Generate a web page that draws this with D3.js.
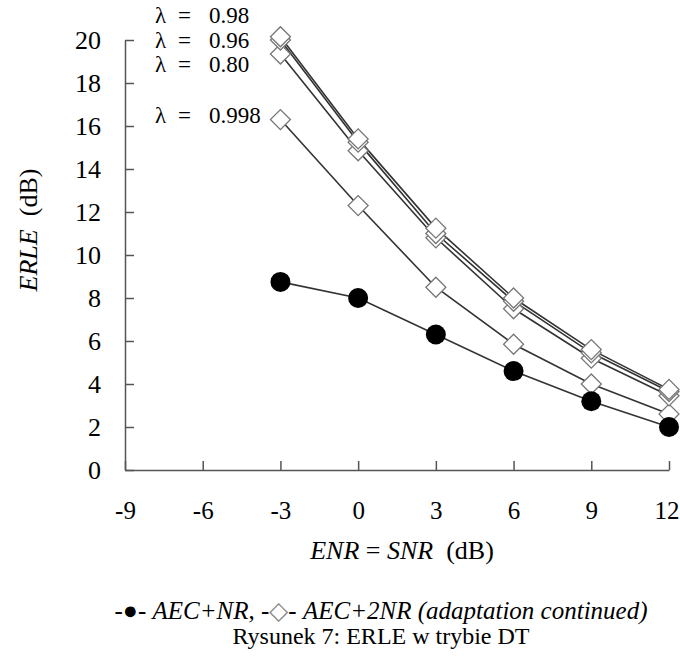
<!DOCTYPE html>
<html>
<head>
<meta charset="utf-8">
<script src="https://cdn.jsdelivr.net/npm/d3@7"></script>
<style>
  body { margin: 0; background: #fff; }
  text { font-family: "Liberation Serif", "Times New Roman", serif; fill: #000; }
  .axis path, .axis line { stroke: #555; stroke-width: 1.5; }
</style>
</head>
<body>
<div id="chart"></div>
<script>
// x values (ENR = SNR, dB)
var enr = [-3, 0, 3, 6, 9, 12];

// AEC+NR (filled circles)
var aecNR = [8.75, 8.0, 6.3, 4.6, 3.2, 2.0];

// AEC+2NR, adaptation continued, one series per lambda
var lam098  = [20.15, 15.4, 11.25, 8.0, 5.6, 3.75];
var lam096  = [20.0, 15.25, 11.0, 7.85, 5.45, 3.65];
var lam080  = [19.35, 14.85, 10.8, 7.5, 5.2, 3.45];
var lam0998 = [16.3, 12.3, 8.5, 5.85, 4.0, 2.6];

var lamLabels = ["0.98", "0.96", "0.80", "0.998"];
var xTicks = [-9, -6, -3, 0, 3, 6, 9, 12];
var yTicks = [0, 2, 4, 6, 8, 10, 12, 14, 16, 18, 20];

var W = 680, H = 658;
var margin = {top: 40, right: 11, bottom: 188, left: 125};
var width = W - margin.left - margin.right,
    height = H - margin.top - margin.bottom;
var serif = "'Liberation Serif', 'Times New Roman', serif";

var svg = d3.select("#chart").append("svg")
    .attr("width", W)
    .attr("height", H)
  .append("g")
    .attr("transform", "translate(" + margin.left + "," + margin.top + ")");

var xScale = d3.scaleLinear().domain([-9, 12]).range([0, width]);
var yScale = d3.scaleLinear().domain([0, 20]).range([height, 0]);

// axes, ticks pointing inward
var xAxisG = svg.append("g")
    .attr("class", "axis")
    .attr("transform", "translate(0," + height + ")")
    .call(d3.axisBottom(xScale).tickValues(xTicks).tickSizeInner(-9).tickSizeOuter(0)
      .tickPadding(31).tickFormat(function(d) { return String(d); }))
    .attr("font-family", serif)
    .attr("font-size", 25);
// keep the last label inside the picture
xAxisG.selectAll(".tick text").filter(function(d) { return d === 12; }).attr("dx", "-0.1em");

svg.append("g")
    .attr("class", "axis")
    .call(d3.axisLeft(yScale).tickValues(yTicks).tickSizeInner(-9).tickSizeOuter(0)
      .tickPadding(24).tickFormat(function(d) { return String(d); }))
    .attr("font-family", serif)
    .attr("font-size", 26);

var line = d3.line()
    .x(function(d, i) { return xScale(enr[i]); })
    .y(function(d) { return yScale(d); });

// diamond series
var diamondSeries = [lam0998, lam080, lam096, lam098];
diamondSeries.forEach(function(s) {
  svg.append("path")
      .datum(s)
      .attr("fill", "none")
      .attr("stroke", "#333")
      .attr("stroke-width", 1.6)
      .attr("d", line);
});

// circle series line
svg.append("path")
    .datum(aecNR)
    .attr("fill", "none")
    .attr("stroke", "#333")
    .attr("stroke-width", 1.6)
    .attr("d", line);

var diamond = d3.symbol().type(d3.symbolSquare).size(200);

diamondSeries.forEach(function(s) {
  svg.selectAll(null)
      .data(s)
    .enter().append("path")
      .attr("d", diamond)
      .attr("transform", function(d, i) {
        return "translate(" + xScale(enr[i]) + "," + yScale(d) + ") rotate(45)";
      })
      .attr("fill", "#fff")
      .attr("stroke", "#777")
      .attr("stroke-width", 1.3);
});

svg.selectAll(".dot")
    .data(aecNR)
  .enter().append("circle")
    .attr("class", "dot")
    .attr("cx", function(d, i) { return xScale(enr[i]); })
    .attr("cy", function(d) { return yScale(d); })
    .attr("r", 10)
    .attr("fill", "#000");

// lambda labels
var labelY = [15, 40, 64, 115];
var lam = svg.selectAll(".lam")
    .data(lamLabels)
  .enter().append("g")
    .attr("class", "lam")
    .attr("transform", function(d, i) {
      return "translate(" + (155 - margin.left) + "," + (labelY[i] + 8 - margin.top) + ")";
    });
lam.append("text").attr("x", 0).style("font-size", "23px").text("\u03bb");
lam.append("text").attr("x", 23).style("font-size", "23px").text("=");
lam.append("text").attr("x", 54).style("font-size", "23px").text(function(d) { return d; });

// y axis label
var yl = svg.append("text")
    .attr("transform", "translate(" + (37 - margin.left) + "," + (230 - margin.top) + ") rotate(-90)")
    .attr("text-anchor", "middle")
    .style("font-size", "26px");
yl.append("tspan").style("font-style", "italic").text("ERLE");
yl.append("tspan").text("\u00a0 (dB)");

// x axis label
var xl = svg.append("text")
    .attr("x", 402 - margin.left)
    .attr("y", 559 - margin.top)
    .attr("text-anchor", "middle")
    .style("font-size", "26px");
xl.append("tspan").style("font-style", "italic").text("ENR");
xl.append("tspan").text(" = ");
xl.append("tspan").style("font-style", "italic").text("SNR");
xl.append("tspan").text("\u00a0 (dB)");

// legend line
var lg = svg.append("text")
    .attr("x", 381 - margin.left)
    .attr("y", 619 - margin.top)
    .attr("text-anchor", "middle")
    .style("font-size", "25px");
lg.append("tspan").text("-\u25cf- ");
lg.append("tspan").style("font-style", "italic").text("AEC+NR");
lg.append("tspan").text(", -");
lg.append("tspan").style("fill", "#888").text("\u25c7");
lg.append("tspan").text("- ");
lg.append("tspan").style("font-style", "italic").text("AEC+2NR (adaptation continued)");

svg.append("text")
    .attr("x", 381 - margin.left)
    .attr("y", 644 - margin.top)
    .attr("text-anchor", "middle")
    .style("font-size", "24px")
    .text("Rysunek 7: ERLE w trybie DT");
</script>
</body>
</html>
